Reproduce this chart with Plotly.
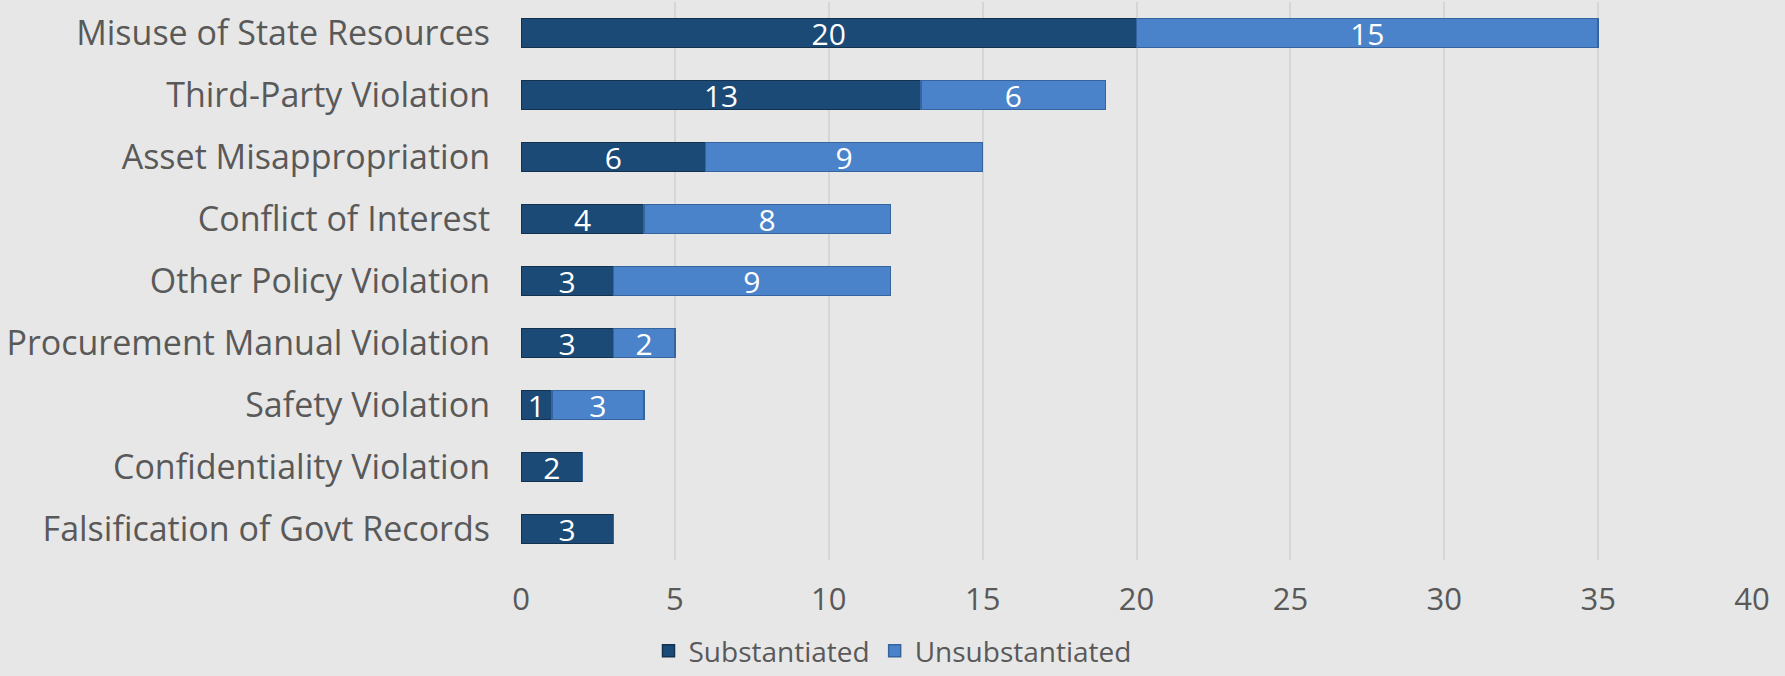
import plotly.graph_objects as go

categories = [
    "Misuse of State Resources",
    "Third-Party Violation",
    "Asset Misappropriation",
    "Conflict of Interest",
    "Other Policy Violation",
    "Procurement Manual Violation",
    "Safety Violation",
    "Confidentiality Violation",
    "Falsification of Govt Records",
]
substantiated = [20, 13, 6, 4, 3, 3, 1, 2, 3]
unsubstantiated = [15, 6, 9, 8, 9, 2, 3, 0, 0]
x_ticks = [0, 5, 10, 15, 20, 25, 30, 35, 40]

FONT = "Open Sans"
GRAY = "#595959"

fig = go.Figure()
fig.add_trace(go.Bar(
    y=categories, x=substantiated, orientation="h", name="Substantiated",
    marker=dict(color="#1b4a76", line=dict(color="#12324f", width=1.5)),
    text=[str(v) if v else "" for v in substantiated],
    textposition="inside", insidetextanchor="middle", textangle=0,
    constraintext="none", cliponaxis=False,
    textfont=dict(color="white", size=30, family=FONT),
))
fig.add_trace(go.Bar(
    y=categories, x=unsubstantiated, orientation="h", name="Unsubstantiated",
    marker=dict(color="#4a83c9", line=dict(color="#35649e", width=1.5)),
    text=[str(v) if v else "" for v in unsubstantiated],
    textposition="inside", insidetextanchor="middle", textangle=0,
    constraintext="none", cliponaxis=False,
    textfont=dict(color="white", size=30, family=FONT),
))

fig.update_layout(
    width=1785, height=676,
    barmode="stack", bargap=0.53,
    paper_bgcolor="#e7e7e7", plot_bgcolor="#e7e7e7",
    margin=dict(l=521, r=33, t=2, b=116),
    font=dict(family=FONT, color=GRAY, size=30),
    showlegend=True,
    legend=dict(
        orientation="h", xref="container", yref="container",
        x=0.5, xanchor="center", y=0.0, yanchor="bottom",
        font=dict(size=28, color=GRAY, family=FONT),
        itemwidth=30, traceorder="normal", bgcolor="rgba(0,0,0,0)",
    ),
    xaxis=dict(
        range=[0, 40], tickvals=x_ticks, showgrid=True, gridcolor="#d6d6d6",
        gridwidth=1.5, zeroline=False, showline=False,
        tickfont=dict(size=31, color=GRAY, family=FONT), ticks="", ticklen=0,
        ticklabelstandoff=18, title=None, fixedrange=True,
    ),
    yaxis=dict(
        categoryorder="array", categoryarray=categories, autorange="reversed",
        showgrid=False, zeroline=False, showline=False, ticks="",
        tickfont=dict(size=34, color=GRAY, family=FONT), ticklabelstandoff=30,
    ),
)

fig.write_html("out.html")
